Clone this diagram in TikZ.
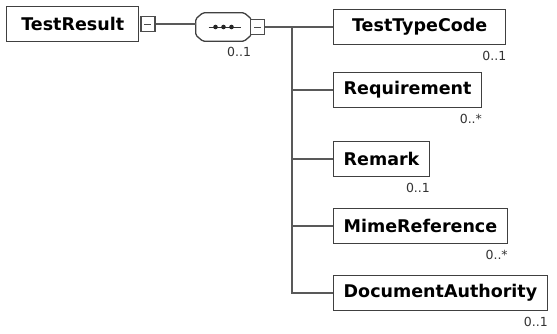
\documentclass[tikz,border=0pt]{standalone}
\usepackage{fontspec}
\setmainfont{DejaVu Sans}
\usetikzlibrary{positioning}

\begin{document}
\begin{tikzpicture}[x=1pt,y=-1pt]
\tikzstyle{every node}+=[inner sep=0pt]
\tikzstyle{elem}=[draw=black!75,line width=1.4pt,fill=white,minimum height=35pt,inner xsep=10pt,anchor=west,font=\fontsize{17.5}{20}\selectfont\bfseries]
\tikzstyle{minusbox}=[draw=black!70,line width=1.1pt,fill=white,minimum width=14pt,minimum height=15pt]
\tikzstyle{mult}=[anchor=north east,text=black!80,font=\fontsize{12.5}{14}\selectfont]
\tikzstyle{conn}=[black!65,line width=1.2pt]
\useasboundingbox (0,0) rectangle (557,333);
\node[elem,minimum width=132pt] (root) at (6,24) {TestResult};
\node[minusbox,right=1pt of root] (rootminus) {};
\draw[black!70,line width=1pt] ([xshift=-3.5pt]rootminus.center) -- ([xshift=3.5pt]rootminus.center);
\node[minimum width=55pt,minimum height=28pt] (seq) at (223.5,27) {};
\draw[black!75,line width=1.3pt,rounded corners=1.5pt,fill=white]
  ([xshift=7pt]seq.north west) -- ([xshift=-7pt]seq.north east) -- ([yshift=-6pt]seq.north east)
  -- ([yshift=6pt]seq.south east) -- ([xshift=-7pt]seq.south east) -- ([xshift=7pt]seq.south west)
  -- ([yshift=6pt]seq.south west) -- ([yshift=-6pt]seq.north west) -- cycle;
\draw[black!80,line width=1pt] ([xshift=-15pt]seq.center) -- ([xshift=17pt]seq.center);
\foreach \dx in {-8,0,8}
  \fill[black!85] ([xshift=\dx pt]seq.center) circle (2.3);
\node[minusbox,anchor=west] (seqminus) at ([xshift=-1pt]seq.east) {};
\draw[black!70,line width=1pt] ([xshift=-3.5pt]seqminus.center) -- ([xshift=3.5pt]seqminus.center);
\node[mult] (seqmult) at ([yshift=-6pt]seq.south east) {0..1};
\draw[conn] (rootminus.east) -- (rootminus.east -| seq.west);
\node[elem,minimum width=172pt] (ttc) at (333,27) {TestTypeCode};
\node[elem] (req) at (333,90) {Requirement};
\node[elem] (rem) at (333,159) {Remark};
\node[elem] (mime) at (333,226) {MimeReference};
\node[elem] (docauth) at (333,293) {DocumentAuthority};
\coordinate (bus) at (292,27);
\draw[conn] (seqminus.east) -- (ttc.west);
\draw[conn] (bus) |- (docauth.west);
\foreach \n in {req,rem,mime}
  \draw[conn] (bus |- \n.west) -- (\n.west);
\node[mult] (ttcmult) at ([yshift=-6pt]ttc.south east) {0..1};
\node[mult] (reqmult) at ([yshift=-6pt]req.south east) {0..*};
\node[mult] (remmult) at ([yshift=-6pt]rem.south east) {0..1};
\node[mult] (mimemult) at ([yshift=-6pt]mime.south east) {0..*};
\node[mult] (docauthmult) at ([yshift=-6pt]docauth.south east) {0..1};
\end{tikzpicture}
\end{document}
